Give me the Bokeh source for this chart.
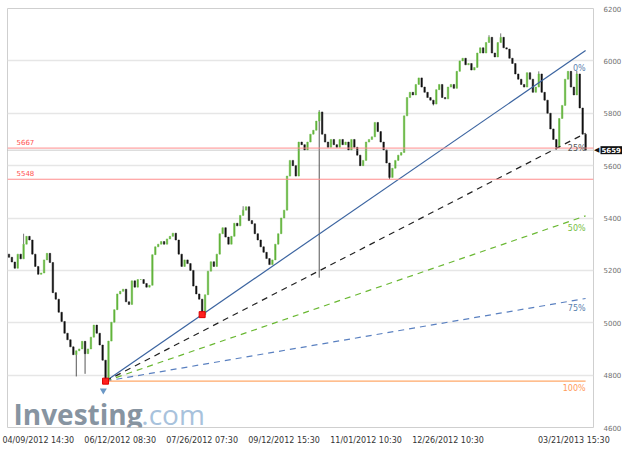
from bokeh.plotting import figure
from bokeh.models import Range1d, FixedTicker, Label, ColumnDataSource, Span
from bokeh.embed import file_html
from bokeh.resources import INLINE

# ---------------- data ----------------
first_open = 5262
closes = [
    5250, 5232, 5208, 5262, 5244, 5300, 5330, 5316, 5262, 5215,
    5185, 5190, 5240, 5265, 5230, 5115, 5090, 5040, 5005, 4960,
    4935, 4908, 4878, 4893, 4900, 4929, 4882, 4900, 4945, 4991,
    4960, 4915, 4857, 4777, 4930, 5002, 5050, 5110, 5120, 5128,
    5080, 5070, 5160, 5136, 5165, 5165, 5150, 5136, 5143, 5260,
    5290, 5300, 5310, 5300, 5320, 5330, 5342, 5316, 5262, 5215,
    5240, 5226, 5200, 5140, 5110, 5090, 5031, 5107, 5197, 5233,
    5215, 5262, 5340, 5363, 5327, 5300, 5330, 5380, 5370, 5410,
    5430, 5443, 5390, 5378, 5340, 5316, 5290, 5269, 5245, 5222,
    5240, 5300, 5340, 5400, 5430, 5560, 5620, 5600, 5560, 5690,
    5680, 5660, 5690, 5720, 5735, 5770, 5805, 5720, 5690, 5670,
    5700, 5680, 5670, 5700, 5680, 5690, 5660, 5700, 5670, 5640,
    5600, 5620, 5690, 5700, 5710, 5765, 5730, 5690, 5660, 5610,
    5555, 5590, 5620, 5640, 5650, 5790, 5860, 5880, 5870, 5910,
    5935, 5900, 5880, 5860, 5850, 5835, 5890, 5910, 5860, 5855,
    5900, 5910, 5895, 5960, 6000, 6010, 5985, 5990, 5965, 5975,
    6030, 6050, 6030, 6070, 6090, 6030, 6015, 6070, 6090, 6050,
    6045, 6010, 5990, 5950, 5930, 5910, 5900, 5955, 5930, 5880,
    5900, 5950, 5880, 5850, 5800, 5740, 5700, 5670, 5780, 5830,
    5930, 5960, 5900, 5870, 5950, 5820, 5720, 5659,
]
low_wick_index = [23, 26, 106, 130, 145, 187]
low_wick_value = [4795, 4805, 5172, 5548, 5830, 5660]
high_wick_index = [5, 80, 106, 164, 168, 181, 194]
high_wick_value = [5340, 5445, 5812, 6098, 6105, 5960, 5962]

tick_index = [10, 38, 66, 94, 122, 150, 193]
tick_labels = ["04/09/2012 14:30", "06/12/2012 08:30", "07/26/2012 07:30",
               "09/12/2012 15:30", "11/01/2012 10:30", "12/26/2012 10:30",
               "03/21/2013 15:30"]
price_ticks = [4600, 4800, 5000, 5200, 5400, 5600, 5800, 6000, 6200]
levels = [5667, 5548]
last_price = 5659
pivot_index = [33, 66]
pivot_value = [4777, 5031]
fan_pct = [0, 25, 50, 75, 100]
fan_names = ["0%", "25%", "50%", "75%", "100%"]

# ---------------- layout / styles ----------------
FONT = "DejaVu Sans"
fan_line_colors = ["#3b64a0", "#222222", "#6ab833", "#5a80c0", "#ffa869"]
fan_text_colors = ["#5b7fae", "#555555", "#77c043", "#5b7fae", "#ff9a5a"]
fan_dashes = ["solid", "6 5", "6 5", "6 5", "solid"]

X0, X1 = -0.5, 199.7
FL, FR, FT, FB = 7, 594, 9, 428  # approximate frame box on the canvas

p = figure(width=624, height=447, output_backend="svg", toolbar_location=None,
           x_range=Range1d(X0, X1), y_range=Range1d(4600, 6200),
           y_axis_location="right",
           min_border_left=FL, min_border_right=22, min_border_top=6, min_border_bottom=11)
p.background_fill_color = "white"
p.border_fill_color = "white"
p.outline_line_color = "#cfcfcf"
p.outline_line_width = 1

def px_x(px):
    return X0 + (px - FL) * (X1 - X0) / (FR - FL)

def px_y(py):
    return 6200 - (py - FT) * 1600.0 / (FB - FT)

# axes
xa = p.xaxis[0]
xa.ticker = FixedTicker(ticks=tick_index)
xa.major_label_overrides = {t: l for t, l in zip(tick_index, tick_labels)}
xa.axis_line_color = None
xa.major_tick_line_color = None
xa.minor_tick_line_color = None
xa.major_label_text_font = FONT
xa.major_label_text_font_size = "8px"
xa.major_label_text_color = "#333333"
xa.major_label_standoff = 2

ya = p.yaxis[0]
ya.ticker = FixedTicker(ticks=price_ticks)
ya.axis_line_color = None
ya.major_tick_line_color = None
ya.minor_tick_line_color = None
ya.major_label_text_font = FONT
ya.major_label_text_font_size = "7px"
ya.major_label_text_color = "#707070"
ya.major_label_standoff = 4

p.xgrid.grid_line_color = None
p.ygrid.ticker = FixedTicker(ticks=[4800, 5000, 5200, 5400, 5600, 5800, 6000])
p.ygrid.grid_line_color = "#e6e6e6"
p.ygrid.grid_line_width = 1.5

# logo (inside the frame, bottom-left)
base = FB - 14
p.add_layout(Label(x=px_x(13), y=px_y(base), text="Investing", text_font="Open Sans",
                   text_font_style="bold", text_font_size="28px", text_color="#8794a1",
                   text_baseline="alphabetic"))
p.add_layout(Label(x=px_x(141), y=px_y(base), text=".com", text_font="Open Sans",
                   text_font_size="28px", text_color="#a8c2dc", text_baseline="alphabetic"))
p.scatter(x=[px_x(103)], y=[px_y(base - 23)], marker="inverted_triangle", size=7,
          fill_color="#6b98c6", line_color=None)

# horizontal levels
for lv in levels:
    p.add_layout(Span(location=lv, dimension="width", line_color="#ff8c8c", line_width=1))
    p.add_layout(Label(x=px_x(16), y=lv, y_offset=3, text=str(lv), text_font=FONT,
                       text_font_size="7px", text_color="#ff5050", text_baseline="bottom"))
p.add_layout(Span(location=last_price, dimension="width", line_color="#9a9a9a",
                  line_width=1, line_dash="1 1"))

# candles
n = len(closes)
xs = list(range(n))
opens = [first_open] + closes[:-1]
tops = [max(o, c) for o, c in zip(opens, closes)]
bots = [min(o, c) for o, c in zip(opens, closes)]
cols = ["#62b43c" if c >= o else "#111111" for o, c in zip(opens, closes)]
src = ColumnDataSource(dict(x=xs, top=tops, bottom=bots, color=cols))
p.segment(x0=low_wick_index, y0=low_wick_value, x1=low_wick_index,
          y1=[bots[i] for i in low_wick_index], line_color="#555555", line_width=1)
p.segment(x0=high_wick_index, y0=high_wick_value, x1=high_wick_index,
          y1=[tops[i] for i in high_wick_index], line_color="#777777", line_width=1)
p.vbar(x="x", width=0.5, top="top", bottom="bottom", fill_color="color",
       line_color="color", line_width=0.5, source=src)

# fan lines
end_i = n - 1
slope = (pivot_value[1] - pivot_value[0]) / (pivot_index[1] - pivot_index[0])
top_end = pivot_value[0] + slope * (end_i - pivot_index[0])
label_i = end_i - 5.5
for pct, name, lc, tc, dash in zip(fan_pct, fan_names, fan_line_colors, fan_text_colors, fan_dashes):
    frac = 1 - pct / 100.0
    end_v = pivot_value[0] + frac * (top_end - pivot_value[0])
    p.line([pivot_index[0], end_i], [pivot_value[0], end_v], line_color=lc,
           line_width=1.2, line_dash=dash)
    lab_v = pivot_value[0] + frac * slope * (label_i - pivot_index[0])
    p.add_layout(Label(x=end_i, y=lab_v, y_offset=-7, text=name, text_font=FONT,
                       text_font_size="8px", text_color=tc, text_align="right",
                       text_baseline="middle"))

# pivots
p.scatter(x=pivot_index, y=pivot_value, marker="square", size=6,
          fill_color="#ff2020", line_color="#dd0000")

# last price tag: placed in narrow side panels so it is not clipped to the frame
p.add_layout(Label(x=X1, x_offset=6, y=last_price, text="\u25c0", text_font=FONT,
                   text_font_size="7px", text_color="#111111", text_align="right",
                   text_baseline="middle"), "left")
p.add_layout(Label(x=X1, x_offset=7, y=last_price, text=str(last_price), text_font=FONT,
                   text_font_size="7px", text_font_style="bold", text_color="white",
                   background_fill_color="#111111", text_baseline="middle", padding=1), "above")

open("out.html", "w").write(file_html(p, INLINE))
